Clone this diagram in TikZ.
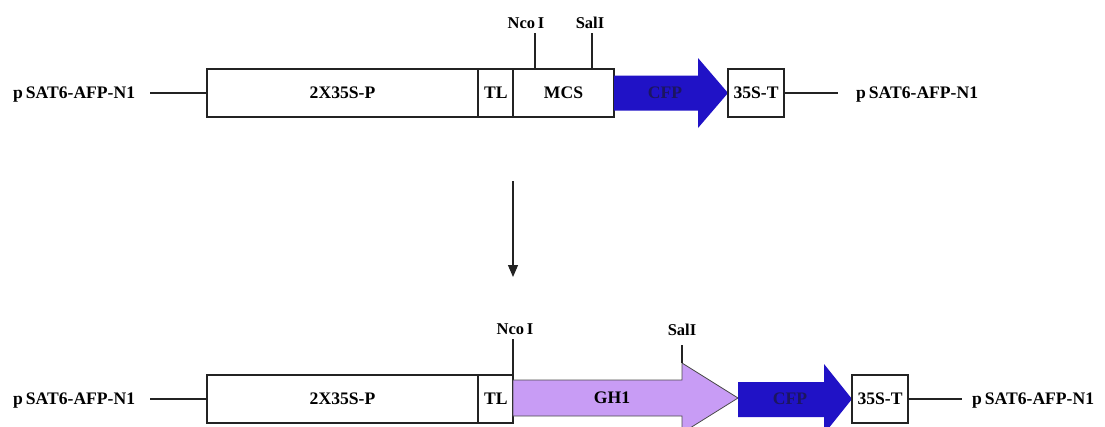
\documentclass[tikz,border=0pt]{standalone}
\usepackage{fontspec}
\setmainfont{Liberation Serif}
\usetikzlibrary{arrows.meta}
\definecolor{cfpblue}{RGB}{32,18,198}
\definecolor{ghlav}{RGB}{200,156,245}
\definecolor{cfptext}{RGB}{28,22,96}
\definecolor{ink}{RGB}{35,35,35}
\begin{document}
\begin{tikzpicture}[x=1pt,y=-1pt,
  txt/.style={font=\fontsize{17.6}{20}\selectfont\bfseries, inner sep=0pt,
              text height=11.8pt, text depth=0pt},
  part/.style={txt, draw=ink, line width=1.2pt, fill=white, minimum height=48pt},
  wire/.style={draw=ink, line width=1.2pt},
  site/.style={txt, font=\fontsize{16.5}{19}\selectfont\bfseries},
  cfparrow/.style={fill=cfpblue},
  gharrow/.style={fill=ghlav, draw=black!70, line width=0.8pt}]

\useasboundingbox (0,0) rectangle (1105,426);

% ---------- vector pSAT6-AFP-N1 ----------
\node[txt, anchor=west] (l1) at (13,93) {p\,SAT6-AFP-N1};
\node[part, minimum width=271pt] (p1) at (342.5,93) {2X35S-P};
\node[part, minimum width=34.5pt] (tl1) at (495.75,93) {TL};
\node[part, minimum width=101pt] (m1) at (563.5,93) {MCS};
\fill[cfparrow] (614,75.5) -- (698,75.5) -- (698,58) -- (728,93)
  -- (698,128) -- (698,110.5) -- (614,110.5) -- cycle;
\node[txt, text=cfptext] (c1) at (665,93) {CFP};
\node[part, minimum width=56pt] (t1) at (756,93) {35S-T};
\node[txt, anchor=west] (r1) at (856,93) {p\,SAT6-AFP-N1};
\draw[wire] (150,93) -- (p1.west);
\draw[wire] (t1.east) -- (838,93);

% restriction sites in the MCS
\node[site] (nco1) at (526,22.5) {Nco\,I};
\node[site] (sal1) at (590,22.5) {SalI};
\coordinate (nco1b) at (535,33);
\coordinate (sal1b) at (592,33);
\draw[wire] (nco1b) -- (nco1b |- m1.north);
\draw[wire] (sal1b) -- (sal1b |- m1.north);

% ---------- cloning step ----------
\coordinate (down1) at (513,181);
\coordinate (down2) at (513,277);
\draw[wire, -{Triangle[width=10pt,length=12pt]}] (down1) -- (down2);

% ---------- pSAT6-AFP-N1 carrying GH1 ----------
\node[txt, anchor=west] (l2) at (13,399) {p\,SAT6-AFP-N1};
\node[part, minimum width=271pt] (p2) at (342.5,399) {2X35S-P};
\node[part, minimum width=34.5pt] (tl2) at (495.75,399) {TL};
\filldraw[gharrow] (513,380) -- (682,380) -- (682,363) -- (738,398)
  -- (682,433) -- (682,416) -- (513,416) -- cycle;
\node[txt] (g2) at (612,398) {GH1};
\fill[cfparrow] (738,382) -- (824,382) -- (824,364) -- (852,399)
  -- (824,434) -- (824,417) -- (738,417) -- cycle;
\node[txt, text=cfptext] (c2) at (790,399) {CFP};
\node[part, minimum width=56pt] (t2) at (880,399) {35S-T};
\node[txt, anchor=west] (r2) at (972,399) {p\,SAT6-AFP-N1};
\draw[wire] (150,399) -- (p2.west);
\draw[wire] (t2.east) -- (962,399);

\node[site] (nco2) at (515,328.5) {Nco\,I};
\node[site] (sal2) at (682,330) {SalI};
\coordinate (nco2b) at (513,339);
\coordinate (sal2b) at (682,345);
\draw[wire] (nco2b) -- (nco2b |- tl2.north);
\draw[wire] (sal2b) -- (682,363);
\end{tikzpicture}
\end{document}
